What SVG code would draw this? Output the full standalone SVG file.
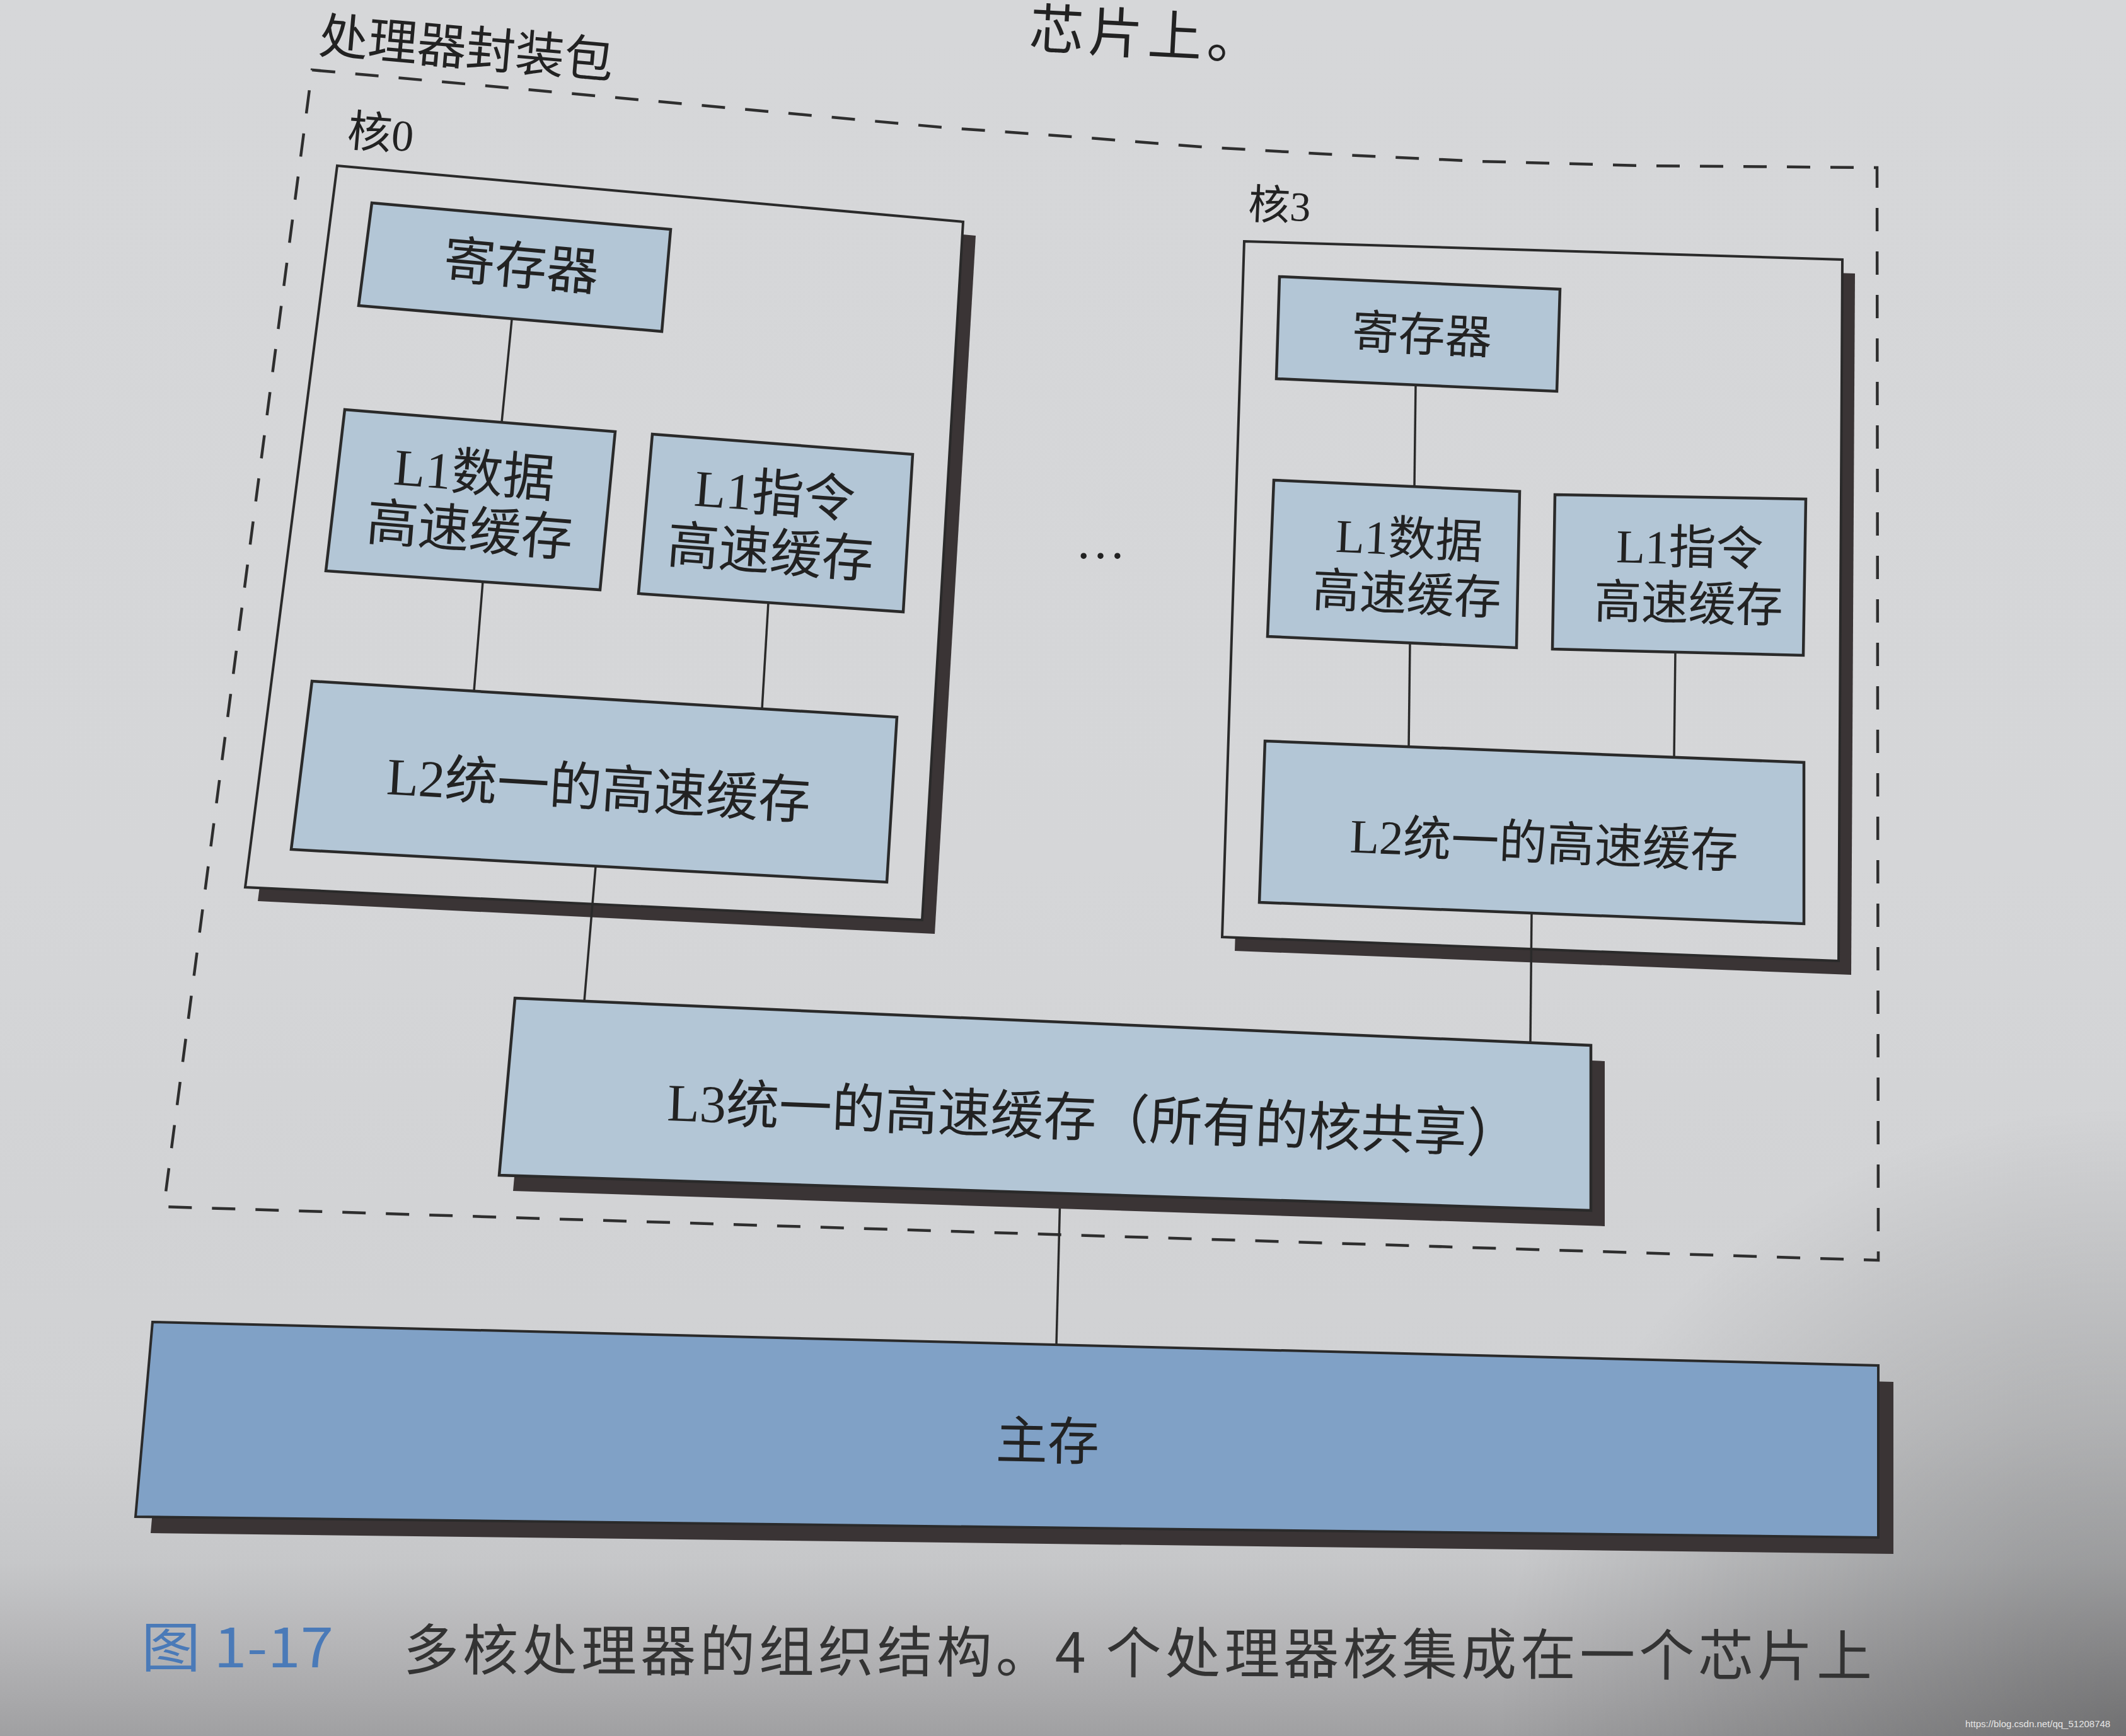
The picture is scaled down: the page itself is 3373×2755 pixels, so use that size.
<svg xmlns="http://www.w3.org/2000/svg" width="3373" height="2755" viewBox="0 0 3373 2755">
<defs>
<linearGradient id="bg" x1="0" y1="0" x2="0" y2="2755" gradientUnits="userSpaceOnUse">
<stop offset="0" stop-color="#d6d7d9"/>
<stop offset="0.5" stop-color="#d5d6d8"/>
<stop offset="0.82" stop-color="#d0d1d3"/>
<stop offset="0.9" stop-color="#c6c7c9"/>
<stop offset="0.94" stop-color="#b8b8ba"/>
<stop offset="1" stop-color="#a0a0a2"/>
</linearGradient>
<radialGradient id="vig" cx="3373" cy="2755" r="1000" gradientUnits="userSpaceOnUse">
<stop offset="0" stop-color="#000" stop-opacity="0.3"/>
<stop offset="1" stop-color="#000" stop-opacity="0"/>
</radialGradient>
<style>
.dash{fill:none;stroke:#2e2e2e;stroke-width:4.5;stroke-dasharray:37 32}
.core{fill:url(#bg);stroke:#2a2a2a;stroke-width:4}
.shadow{fill:#3a3435}
.blue{fill:#b3c6d6;stroke:#2a2a2a;stroke-width:4.5}
.mem{fill:#80a1c6;stroke:#2a2a2a;stroke-width:4}
.conn{stroke:#2a2a2a;stroke-width:3.5;fill:none}
.t{font-family:'Liberation Serif','Noto Sans CJK SC',serif;fill:#222;text-anchor:middle}
.cap{font-family:'Noto Sans CJK SC','Liberation Sans',sans-serif}
</style>
</defs>
<rect x="0" y="0" width="3373" height="2755" fill="url(#bg)"/>
<rect x="0" y="0" width="3373" height="2755" fill="url(#vig)"/>

<text class="t" style="text-anchor:start" font-size="86" letter-spacing="8" transform="translate(1632,76) rotate(3)">芯片上。</text>

<g id="package">
<path class="dash" d="M495,111 L1505,203 L1716,218 L1905,233 L2094,244 L2347,256 L2610,263 L2978,266 L2980,2000 L260,1915 Z"/>
<text class="t" font-size="78" transform="translate(740,75) rotate(5)" y="29">处理器封装包</text>
</g>

<g id="core0">
<polygon class="shadow" points="555,285 1548,374 1483,1482 409,1430"/>
<polygon class="core" points="535,263 1528,352 1463,1460 389,1408"/>
<text class="t" font-size="70" transform="translate(604,210) rotate(5)" y="26">核0</text>
</g>

<g id="core3">
<polygon class="shadow" points="1994,405 2943,434 2937,1547 1959,1509"/>
<polygon class="core" points="1974,383 2923,412 2917,1525 1939,1487"/>
<text class="t" font-size="66" transform="translate(2030,325) rotate(2.5)" y="24">核3</text>
</g>

<g id="connectors">
<line class="conn" x1="812" y1="507" x2="796" y2="670"/>
<line class="conn" x1="766" y1="923" x2="752" y2="1097"/>
<line class="conn" x1="1219" y1="956" x2="1209" y2="1125"/>
<line class="conn" x1="945" y1="1375" x2="927" y2="1589"/>
<line class="conn" x1="2246" y1="611" x2="2244" y2="772"/>
<line class="conn" x1="2237" y1="1020" x2="2235" y2="1185"/>
<line class="conn" x1="2658" y1="1035" x2="2656" y2="1202"/>
<line class="conn" x1="2430" y1="1449" x2="2428" y2="1655"/>
<line class="conn" x1="1682" y1="1894" x2="1676" y2="2134"/>
</g>

<g id="core0-registers">
<polygon class="blue" points="590,322 1064,364 1050,526 569,485"/>
<text class="t" font-size="82" transform="translate(827,421) rotate(5)" y="30">寄存器</text>
</g>
<g id="core0-l1d">
<polygon class="blue" points="547,650 976,685 952,936 517,906"/>
<text class="t" font-size="82" transform="translate(749,794) rotate(4.7)"><tspan x="0" y="-15">L1数据</tspan><tspan x="0" y="76">高速缓存</tspan></text>
</g>
<g id="core0-l1i">
<polygon class="blue" points="1035,689 1448,721 1433,971 1013,942"/>
<text class="t" font-size="82" transform="translate(1226,828) rotate(4.4)"><tspan x="0" y="-16">L1指令</tspan><tspan x="0" y="77">高速缓存</tspan></text>
</g>
<g id="core0-l2">
<polygon class="blue" points="495,1081 1423,1138 1407,1400 462,1348"/>
<text class="t" font-size="83" transform="translate(950,1250) rotate(3.4)" y="30">L2统一的高速缓存</text>
</g>

<g id="core3-registers">
<polygon class="blue" points="2030,439 2475,459 2470,621 2025,601"/>
<text class="t" font-size="74" transform="translate(2256,530) rotate(2.6)" y="27">寄存器</text>
</g>
<g id="core3-l1d">
<polygon class="blue" points="2021,762 2411,780 2406,1028 2011,1010"/>
<text class="t" font-size="75" transform="translate(2234,897) rotate(2.6)"><tspan x="0" y="-16">L1数据</tspan><tspan x="0" y="72">高速缓存</tspan></text>
</g>
<g id="core3-l1i">
<polygon class="blue" points="2467,785 2865,792 2861,1040 2463,1030"/>
<text class="t" font-size="75" transform="translate(2680,911) rotate(1.3)"><tspan x="0" y="-16">L1指令</tspan><tspan x="0" y="73">高速缓存</tspan></text>
</g>
<g id="core3-l2">
<polygon class="blue" points="2007,1176 2862,1210 2862,1466 1998,1432"/>
<text class="t" font-size="76" transform="translate(2450,1337) rotate(2.3)" y="28">L2统一的高速缓存</text>
</g>

<g id="ellipsis">
<text class="t" font-size="80" x="1746" y="886">…</text>
</g>

<g id="l3">
<polygon class="shadow" points="839,1609 2546,1684 2546,1946 814,1890"/>
<polygon class="blue" points="817,1584 2524,1659 2524,1921 792,1865"/>
<text class="t" font-size="84" transform="translate(1735,1773) rotate(2.2)" y="31">L3统一的高速缓存（所有的核共享）</text>
</g>

<g id="main-memory">
<polygon class="shadow" points="266,2124 3004,2193 3004,2466 239,2433"/>
<polygon class="mem" points="242,2098 2980,2167 2980,2440 215,2407"/>
<text class="t" font-size="82" transform="translate(1662,2286) rotate(1)" y="30">主存</text>
</g>

<g id="caption">
<text class="cap" font-size="86" fill="#4a7ab8" x="224" y="2646" textLength="305" lengthAdjust="spacingAndGlyphs">图 1-17</text>
<text class="cap" font-size="88" fill="#333" x="640" y="2650" textLength="2330" lengthAdjust="spacing" transform="rotate(0.25 640 2650)">多核处理器的组织结构。4 个处理器核集成在一个芯片上</text>
</g>
<text font-family="'Liberation Sans',sans-serif" font-size="15" fill="#e6e6e6" x="3118" y="2741">https://blog.csdn.net/qq_51208748</text>
</svg>
